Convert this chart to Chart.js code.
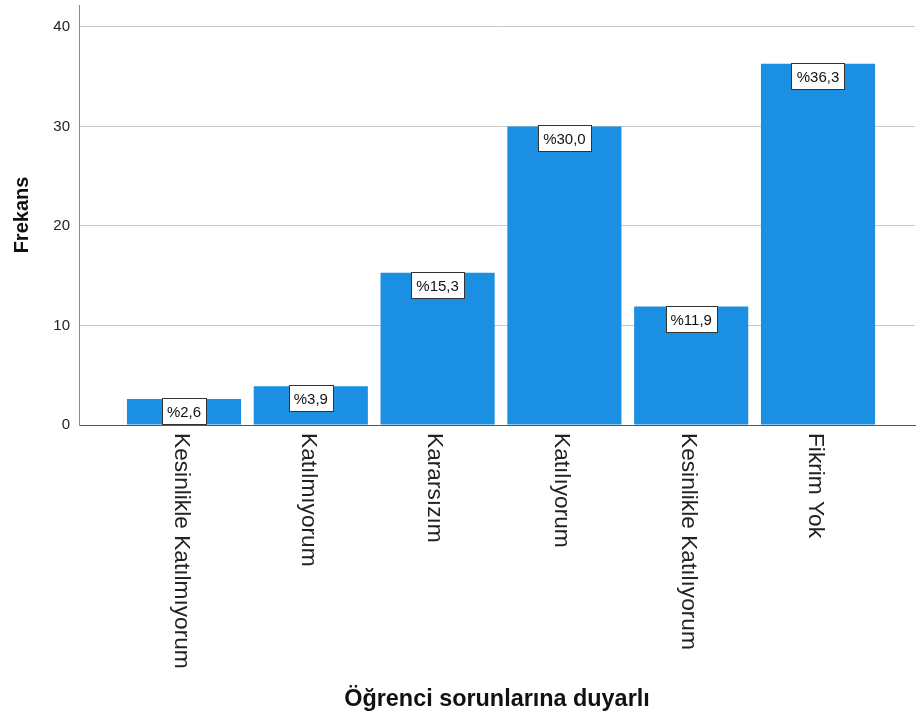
<!DOCTYPE html>
<html lang="tr">
<head>
  <meta charset="UTF-8">
  <title>Öğrenci sorunlarına duyarlı</title>
  <style>
    html, body { margin: 0; padding: 0; background: #fff; }
    #wrap { width: 916px; height: 719px; }
  </style>
</head>
<body>
  <div id="wrap"><canvas id="grafik" width="916" height="719"></canvas></div>

  <script src="https://cdn.jsdelivr.net/npm/chart.js"></script>
  <script>
    // veriler
    const kategoriler = ["Kesinlikle Katılmıyorum", "Katılmıyorum", "Kararsızım", "Katılıyorum", "Kesinlikle Katılıyorum", "Fikrim Yok"];
    const frekans = [2.6, 3.9, 15.3, 30.0, 11.9, 36.3];
    const yuzdeler = ["%2,6", "%3,9", "%15,3", "%30,0", "%11,9", "%36,3"];
    const yTikleri = [0, 10, 20, 30, 40];

    const FONT = '"Liberation Sans", Arial, sans-serif';
    const barRenk = '#1b8fe2';

    // yüzde kutuları + döndürülmüş kategori etiketleri
    const etiketPlugin = {
      id: 'etiketler',
      afterDatasetsDraw(chart) {
        const ctx = chart.ctx;
        const meta = chart.getDatasetMeta(0);
        ctx.save();
        ctx.font = '15px ' + FONT;
        ctx.textAlign = 'center';
        ctx.textBaseline = 'middle';
        meta.data.forEach((bar, i) => {
          const txt = yuzdeler[i];
          const w = Math.round(ctx.measureText(txt).width) + 10;
          const h = 26;
          const x = Math.round(bar.x - w / 2) + 0.5;
          const y = Math.round(bar.y) - 1 + 0.5;
          ctx.fillStyle = '#fff';
          ctx.fillRect(x, y, w, h);
          ctx.strokeStyle = '#333';
          ctx.lineWidth = 1;
          ctx.strokeRect(x, y, w, h);
          ctx.fillStyle = '#111';
          ctx.fillText(txt, bar.x, y + h / 2 + 1);
        });
        ctx.restore();
      },
      afterDraw(chart) {
        const ctx = chart.ctx;
        const xs = chart.scales.x;
        const alt = chart.chartArea.bottom;
        ctx.save();
        ctx.font = '22.7px ' + FONT;
        ctx.fillStyle = '#222';
        ctx.textAlign = 'left';
        ctx.textBaseline = 'middle';
        kategoriler.forEach((k, i) => {
          const px = xs.getPixelForValue(i + 1);
          ctx.save();
          ctx.translate(px - 3, alt + 8);
          ctx.rotate(Math.PI / 2);
          ctx.fillText(k, 0, 0);
          ctx.restore();
        });
        ctx.restore();
      }
    };

    new Chart(document.getElementById('grafik').getContext('2d'), {
      type: 'bar',
      data: {
        datasets: [{
          data: frekans.map((v, i) => ({ x: i + 1, y: v })),
          backgroundColor: barRenk,
          borderWidth: 0,
          barPercentage: 0.9,
          categoryPercentage: 1
        }]
      },
      options: {
        responsive: false,
        animation: false,
        layout: { padding: { top: 5, right: 1, left: 0, bottom: 0 } },
        plugins: { legend: { display: false }, tooltip: { enabled: false } },
        scales: {
          x: {
            type: 'linear',
            offset: false,
            min: 0.172,
            max: 6.765,
            grid: { display: false, drawTicks: false },
            border: { display: true, color: '#555', width: 1 },
            ticks: { display: false },
            afterBuildTicks(s) { s.ticks = kategoriler.map((k, i) => ({ value: i + 1 })); },
            title: {
              display: true,
              text: 'Öğrenci sorunlarına duyarlı',
              color: '#111',
              font: { family: FONT, size: 23.4, weight: 'bold' },
              padding: { top: 0, bottom: 5 }
            },
            afterFit(s) { s.height = 294; s.paddingLeft = 0; s.paddingRight = 0; }
          },
          y: {
            min: 0,
            max: 42.2,
            grid: { color: '#c8c8c8', lineWidth: 1, drawTicks: false },
            border: { display: true, color: '#8a8a8a', width: 1 },
            ticks: {
              color: '#222',
              padding: 9,
              font: { family: FONT, size: 15 }
            },
            afterBuildTicks(s) { s.ticks = yTikleri.map(v => ({ value: v })); },
            title: {
              display: true,
              text: 'Frekans',
              color: '#111',
              font: { family: FONT, size: 20, weight: 'bold' },
              padding: { top: 10, bottom: 0 }
            },
            afterFit(s) { s.width = 79; s.paddingTop = 0; s.paddingBottom = 0; }
          }
        }
      },
      plugins: [etiketPlugin]
    });
  </script>
</body>
</html>
